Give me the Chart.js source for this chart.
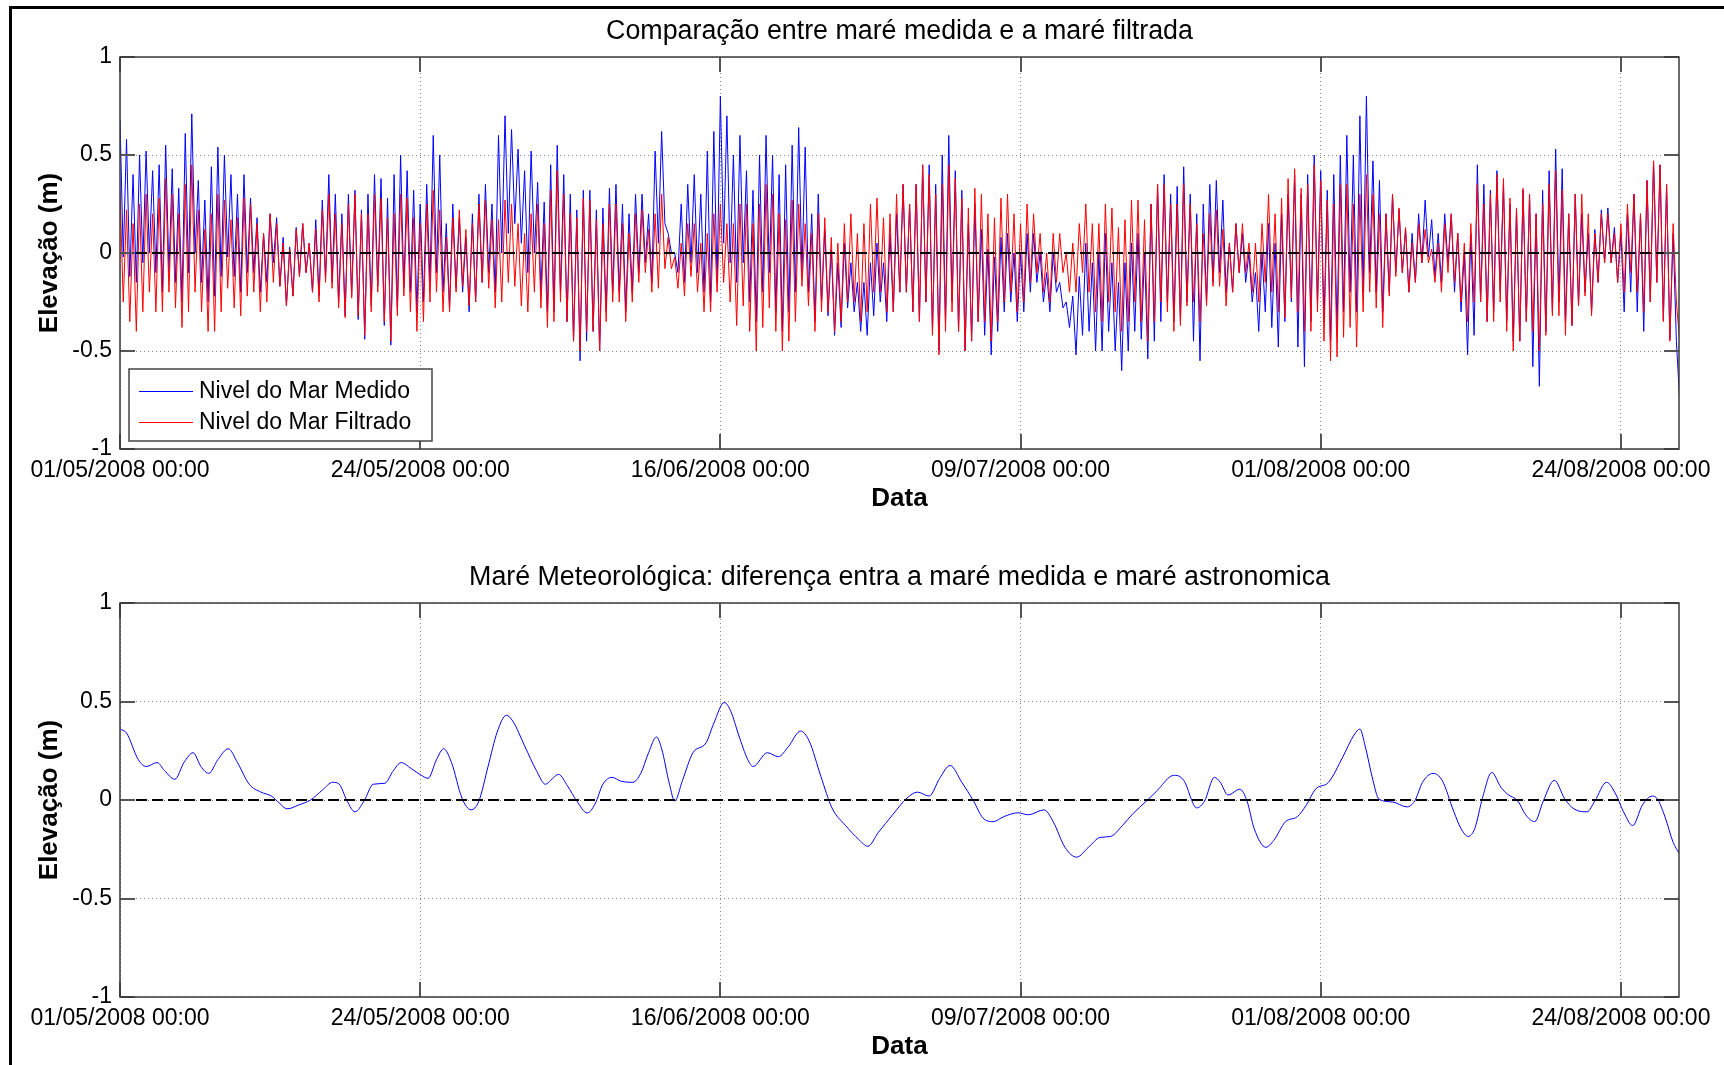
<!DOCTYPE html>
<html lang="pt">
<head>
<meta charset="utf-8">
<title>Maré medida, filtrada e meteorológica</title>
<script src="https://cdn.jsdelivr.net/npm/chart.js@4.4.1/dist/chart.umd.min.js"></script>
<style>
  html, body { margin: 0; padding: 0; background: #fff; }
  body { width: 1724px; height: 1065px; position: relative; overflow: hidden; }
  .painel { position: absolute; left: 0; width: 1724px; }
  .painel canvas { display: block; }
  #painel-topo { top: 0; height: 511px; }
  #painel-base { top: 546px; height: 513px; }
  .moldura { position: absolute; left: 9px; top: 6px; right: -10px; bottom: -10px;
             border-left: 3px solid #000; border-top: 3px solid #000; pointer-events: none; }
</style>
</head>
<body>
<div class="painel" id="painel-topo"><canvas id="grafico-mare" width="1724" height="511"></canvas></div>
<div class="painel" id="painel-base"><canvas id="grafico-meteo" width="1724" height="513"></canvas></div>
<div class="moldura"></div>
<script>
(function () {
  'use strict';

  var FONTE = '"Liberation Sans", Arial, Helvetica, sans-serif';
  var PASSO = 0.25;      // intervalo entre amostras (dias) = 6 h
  var FIM = 119.45;      // fim da série em dias desde 01/05/2008 00:00

  // eixo x: dias desde 01/05/2008 00:00
  var tickDias = [0, 23, 46, 69, 92, 115];
  var tickRotulos = ['01/05/2008 00:00', '24/05/2008 00:00', '16/06/2008 00:00',
                     '09/07/2008 00:00', '01/08/2008 00:00', '24/08/2008 00:00'];
  var yTicks = [-1, -0.5, 0, 0.5, 1];
  var yRotulos = ['-1', '-0.5', '0', '0.5', '1'];

  var zeroDias = [0, FIM];
  var zeroValores = [0, 0];

  // Nivel do Mar Medido (m), 4 amostras por dia
  var nivelMedido = [
    .68,-.02,.58,-.12,  .4,-.15,.5,-.05,  .52,0,.42,-.1,  .45,-.2,.55,-.1,
    .43,-.15,.33,-.25,  .61,-.1,.71,0,  .37,-.15,.27,-.25,  .44,-.22,.54,-.12,
    .5,-.02,.4,-.12,  .3,-.2,.4,-.1,  .28,-.1,.18,-.2,  .1,-.15,.2,-.05,
    .18,-.17,.08,-.27,  .03,-.22,.13,-.12,  .15,-.1,.05,-.2,  .17,-.22,.27,-.12,
    .4,-.15,.3,-.25,  .2,-.32,.3,-.22,  .32,-.34,.22,-.44,  .3,-.27,.4,-.17,
    .38,-.37,.28,-.47,  .4,-.28,.5,-.18,  .42,-.2,.32,-.3,
    // 24/05
    .25,-.25,.35,-.15,  .6,-.1,.5,-.2,  .15,-.28,.25,-.18,  .18,-.2,.08,-.3,
    .2,-.25,.3,-.15,  .35,-.1,.25,-.2,  .6,0,.7,.1,  .63,.15,.53,.05,
    .42,-.1,.52,0,  .36,-.2,.26,-.3,  .45,-.3,.55,-.2,  .4,-.35,.3,-.45,
    .22,-.55,.32,-.45,  .32,-.4,.22,-.5,  .23,-.3,.33,-.2,  .35,-.2,.25,-.3,
    .2,-.2,.3,-.1,  .3,-.05,.2,-.15,  .52,.05,.62,.15,  .1,0,0,-.1,
    .25,-.15,.35,-.05,  .4,-.1,.3,-.2,  .52,-.25,.62,-.15,
    // 16/06
    .8,.05,.7,-.05,  .5,-.15,.6,-.05,  .42,-.25,.32,-.35,  .5,-.2,.6,-.1,
    .5,-.3,.4,-.4,  .45,-.3,.55,-.2,  .64,-.1,.54,-.2,  .2,-.35,.3,-.25,
    .12,-.32,.02,-.42,  -.05,-.38,.05,-.28,  -.05,-.3,-.15,-.4,  -.15,-.42,-.05,-.32,
    .05,-.25,-.05,-.35,  .1,-.3,.2,-.2,  .35,-.2,.25,-.3,  .35,-.35,.45,-.25,
    .45,-.4,.35,-.5,  .5,-.35,.6,-.25,  .42,-.4,.32,-.5,  .15,-.45,.25,-.35,
    .12,-.42,.02,-.52,  -.02,-.4,.08,-.3,  .1,-.25,0,-.35,
    // 09/07
    0,-.3,.1,-.2,  .1,-.15,0,-.25,  -.1,-.3,0,-.2,  -.15,-.28,-.25,-.38,
    -.22,-.52,-.12,-.42,  .05,-.4,-.05,-.5,  0,-.5,.1,-.4,  -.05,-.5,-.15,-.6,
    -.05,-.5,.05,-.4,  .1,-.44,0,-.54,  .25,-.45,.35,-.35,  .4,-.25,.3,-.35,
    .34,-.35,.44,-.25,  .3,-.45,.2,-.55,  .25,-.25,.35,-.15,  .37,-.1,.27,-.2,
    .05,-.2,.15,-.1,  .1,-.15,0,-.25,  -.1,-.4,0,-.3,  .15,-.38,.05,-.48,
    .2,-.35,.3,-.25,  .4,-.48,.3,-.58,  .4,-.35,.5,-.25,
    // 01/08
    .42,-.35,.32,-.45,  .4,-.4,.5,-.3,  .6,-.2,.5,-.3,  .7,-.2,.8,-.1,
    .47,-.2,.37,-.3,  .2,-.2,.3,-.1,  .22,-.1,.12,-.2,  .1,-.15,.2,-.05,
    .27,-.02,.17,-.12,  .1,-.15,.2,-.05,  .2,-.2,.1,-.3,  0,-.52,.1,-.42,
    .45,-.25,.35,-.35,  .32,-.3,.42,-.2,  .35,-.35,.25,-.45,  .22,-.45,.32,-.35,
    .3,-.58,.2,-.68,  .32,-.4,.42,-.3,  .53,-.25,.43,-.35,  .2,-.37,.3,-.27,
    .2,-.2,.1,-.3,  .12,-.15,.22,-.05,  .23,-.05,.13,-.15,
    // 24/08
    .1,-.3,.2,-.2,  .3,-.3,.2,-.4,  .37,-.25,.47,-.15,  .45,-.34,.35,-.44,
    .1,-.45,-.75,-.6
  ];

  // Nivel do Mar Filtrado (m), 4 amostras por dia
  var nivelFiltrado = [
    .32,-.25,.22,-.35,  .15,-.4,.25,-.3,  .3,-.2,.2,-.3,  .28,-.3,.38,-.2,
    .3,-.28,.2,-.38,  .35,-.3,.45,-.2,  .22,-.3,.12,-.4,  .2,-.4,.3,-.3,
    .27,-.18,.17,-.28,  .18,-.32,.28,-.22,  .25,-.2,.15,-.3,  .1,-.25,.2,-.15,
    .15,-.17,.05,-.27,  .02,-.22,.12,-.12,  .15,-.1,.05,-.2,  .12,-.25,.22,-.15,
    .3,-.18,.2,-.28,  .15,-.33,.25,-.23,  .3,-.32,.2,-.42,  .2,-.3,.3,-.2,
    .28,-.35,.18,-.45,  .2,-.32,.3,-.22,  .28,-.3,.18,-.4,
    // 24/05
    .15,-.35,.25,-.25,  .32,-.2,.22,-.3,  .08,-.3,.18,-.2,  .22,-.17,.12,-.27,
    .15,-.25,.25,-.15,  .27,-.18,.17,-.28,  .17,-.25,.27,-.15,  .25,-.17,.15,-.27,
    .1,-.3,.2,-.2,  .25,-.28,.15,-.38,  .32,-.35,.42,-.25,  .3,-.35,.2,-.45,
    .18,-.5,.28,-.4,  .27,-.4,.17,-.5,  .15,-.35,.25,-.25,  .25,-.25,.15,-.35,
    .1,-.25,.2,-.15,  .22,-.1,.12,-.2,  .2,-.18,.3,-.08,  .08,-.08,-.02,-.18,
    .05,-.22,.15,-.12,  .15,-.2,.05,-.3,  .1,-.3,.2,-.2,
    // 16/06
    .25,-.15,.15,-.25,  .15,-.37,.25,-.27,  .25,-.4,.15,-.5,  .25,-.38,.35,-.28,
    .3,-.4,.2,-.5,  .17,-.45,.27,-.35,  .25,-.17,.15,-.27,  .1,-.4,.2,-.3,
    .18,-.3,.08,-.4,  .05,-.35,.15,-.25,  .2,-.25,.1,-.35,  .15,-.3,.25,-.2,
    .28,-.2,.18,-.3,  .2,-.3,.3,-.2,  .35,-.2,.25,-.3,  .35,-.35,.45,-.25,
    .4,-.42,.3,-.52,  .35,-.4,.45,-.3,  .38,-.4,.28,-.5,  .23,-.45,.33,-.35,
    .3,-.35,.2,-.45,  .18,-.35,.28,-.25,  .3,-.2,.2,-.3,
    // 09/07
    .15,-.25,.25,-.15,  .2,-.1,.1,-.2,  0,-.25,.1,-.15,  .1,-.1,0,-.2,
    .05,-.2,.15,-.1,  .25,-.2,.15,-.3,  .15,-.35,.25,-.25,  .23,-.3,.13,-.4,
    .17,-.35,.27,-.25,  .27,-.35,.17,-.45,  .25,-.35,.35,-.25,  .35,-.3,.25,-.4,
    .25,-.37,.35,-.27,  .25,-.25,.15,-.35,  .1,-.27,.2,-.17,  .22,-.17,.12,-.27,
    .05,-.2,.15,-.1,  .15,-.1,.05,-.2,  .05,-.25,.15,-.15,  .3,-.2,.2,-.3,
    .28,-.33,.38,-.23,  .43,-.3,.33,-.4,  .35,-.4,.45,-.3,
    // 01/08
    .37,-.45,.27,-.55,  .25,-.53,.35,-.43,  .35,-.38,.25,-.48,  .3,-.3,.4,-.2,
    .3,-.28,.2,-.38,  .2,-.22,.3,-.12,  .23,-.1,.13,-.2,  .05,-.15,.15,-.05,
    .12,-.05,.02,-.15,  .05,-.2,.15,-.1,  .2,-.15,.1,-.25,  .05,-.35,.15,-.25,
    .35,-.25,.25,-.35,  .3,-.35,.4,-.25,  .38,-.4,.28,-.5,  .23,-.45,.33,-.35,
    .3,-.4,.2,-.5,  .25,-.42,.35,-.32,  .42,-.32,.32,-.42,  .2,-.37,.3,-.27,
    .3,-.22,.2,-.32,  .1,-.15,.2,-.05,  .2,-.05,.1,-.15,
    // 24/08
    .15,-.2,.25,-.1,  .3,-.2,.2,-.3,  .37,-.25,.47,-.15,  .45,-.35,.35,-.45,
    .15,-.25,-.45,-.3
  ];

  // Maré meteorológica: pontos (dia, m)
  var meteoDias = [
    0, 0.5, 1.4, 2.0, 2.85, 3.4, 4.2, 4.9, 5.6, 6.2, 6.8, 7.5, 8.3, 9.0, 9.9, 10.8,
    11.6, 12.2, 12.8, 13.7, 14.6, 15.5, 16.3, 16.8, 17.4, 18.0, 18.7, 19.4, 20.3, 20.9,
    21.55, 22.3, 23.1, 23.6, 24.25, 24.8, 25.4, 26.2, 26.9, 27.5, 28.2, 28.9, 29.6, 30.1,
    31.0, 31.9, 32.6, 33.0, 33.6, 34.3, 35.0, 35.8, 36.4, 37.0, 37.7, 38.4, 39.3, 39.9,
    40.5, 41.1, 41.5, 42.1, 42.5, 43.1, 43.9, 44.9, 45.5, 46.3, 46.8, 47.4, 48.1, 48.5,
    49.6, 50.45, 51.2, 52.15, 52.8, 53.7, 54.55, 55.6, 56.6, 57.3, 58.1, 59.2, 60.3, 61.1,
    62.0, 62.8, 63.6, 64.5, 65.4, 66.1, 66.9, 67.7, 68.8, 69.6, 70.8, 71.5, 72.4, 73.3,
    74.2, 75.1, 75.9, 76.8, 77.6, 78.65, 79.5, 80.5, 80.9, 81.5, 82.5, 83.1, 83.85, 84.3,
    84.9, 85.8, 86.35, 86.9, 87.8, 88.4, 89.3, 90.2, 90.9, 91.6, 92.6, 93.7, 94.55, 95.0,
    95.4, 96.0, 96.45, 97.5, 98.6, 99.2, 99.8, 100.6, 101.3, 102.2, 102.75, 103.3, 103.8,
    104.4, 105.1, 105.8, 106.3, 107.1, 107.7, 108.4, 109.05, 109.9, 110.7, 111.4, 112.4,
    113.0, 113.9, 114.6, 115.2, 115.9, 116.65, 117.4, 117.8, 118.4, 119.0, 119.45
  ];
  var meteoValores = [
    .36, .34, .205, .17, .19, .15, .105, .19, .24, .17, .135, .205, .26, .19, .08, .04,
    .02, -.015, -.045, -.025, 0, .05, .09, .08, -.005, -.06, -.005, .08, .085, .145,
    .19, .16, .125, .11, .205, .26, .19, .01, -.05, -.005, .17, .345, .43, .40,
    .275, .15, .08, .1, .13, .07, -.005, -.066, -.02, .08, .115, .095, .09, .135,
    .24, .32, .26, .08, -.005, .1, .24, .29, .39, .495, .45, .33, .205, .17,
    .24, .22, .27, .35, .30, .12, -.04, -.13, -.2, -.235, -.165, -.075, .01, .04,
    .02, .11, .175, .09, -.005, -.09, -.11, -.085, -.065, -.075, -.05, -.11, -.24, -.29,
    -.24, -.19, -.185, -.13, -.07, -.005, .05, .12, .125, .1, -.04, -.005, .115, .09,
    .025, .055, -.005, -.145, -.24, -.205, -.11, -.085, -.025, .055, .09, .22, .33, .36,
    .275, .1, .005, -.01, -.035, -.005, .09, .135, .1, -.06, -.145, -.185, -.145,
    .012, .14, .065, .03, -.005, -.075, -.11, -.005, .1, .005, -.045, -.06,
    -.005, .09, .03, -.06, -.13, -.025, .02, .005, -.09, -.215, -.27
  ];

  function serie(valores) {
    return valores.map(function (v, i) { return { x: i * PASSO, y: v }; });
  }
  function pares(xs, ys) {
    return xs.map(function (x, i) { return { x: x, y: ys[i] }; });
  }

  // caixa do eixo e marcas internas, como no MATLAB
  var eixoMatlab = {
    id: 'eixoMatlab',
    afterDatasetsDraw: function (chart) {
      var a = chart.chartArea, ctx = chart.ctx;
      var sx = chart.scales.x, sy = chart.scales.y;
      var tam = 15;
      ctx.save();
      ctx.strokeStyle = '#555';
      ctx.lineWidth = 2;
      ctx.beginPath();
      tickDias.forEach(function (d) {
        var px = Math.round(sx.getPixelForValue(d));
        ctx.moveTo(px, a.bottom); ctx.lineTo(px, a.bottom - tam);
        ctx.moveTo(px, a.top); ctx.lineTo(px, a.top + tam);
      });
      yTicks.forEach(function (v) {
        var py = Math.round(sy.getPixelForValue(v));
        ctx.moveTo(a.left, py); ctx.lineTo(a.left + tam, py);
        ctx.moveTo(a.right, py); ctx.lineTo(a.right - tam, py);
      });
      ctx.stroke();
      ctx.lineWidth = 1.5;
      ctx.strokeStyle = '#3a3a3a';
      ctx.strokeRect(a.left, a.top, a.right - a.left, a.bottom - a.top);
      ctx.restore();
    }
  };

  var legendaItens = ['Nivel do Mar Medido', 'Nivel do Mar Filtrado'];
  var legendaCaixa = {
    id: 'legendaCaixa',
    afterDraw: function (chart) {
      var ctx = chart.ctx, a = chart.chartArea;
      var x0 = a.left + 9, y0 = a.bottom - 80, w = 303, h = 72;
      ctx.save();
      ctx.fillStyle = '#fff';
      ctx.fillRect(x0, y0, w, h);
      ctx.strokeStyle = '#444';
      ctx.lineWidth = 1.5;
      ctx.strokeRect(x0, y0, w, h);
      ctx.font = '23px ' + FONTE;
      ctx.textBaseline = 'middle';
      legendaItens.forEach(function (rotulo, i) {
        var ds = chart.data.datasets.filter(function (d) { return d.label === rotulo; })[0];
        var y = y0 + 22 + i * 31;
        ctx.strokeStyle = ds.borderColor;
        ctx.lineWidth = 1;
        ctx.beginPath();
        ctx.moveTo(x0 + 10, y + 0.5); ctx.lineTo(x0 + 64, y + 0.5);
        ctx.stroke();
        ctx.fillStyle = '#000';
        ctx.fillText(rotulo, x0 + 70, y + 1);
      });
      ctx.restore();
    }
  };

  function opcoes(titulo) {
    var grade = { color: '#8a8a8a', lineWidth: 1, drawTicks: false };
    var borda = { display: false, dash: [1, 3] };
    return {
      responsive: false,
      animation: false,
      devicePixelRatio: 1,
      layout: { padding: { left: 0, right: 45, top: 0, bottom: 0 } },
      plugins: {
        legend: { display: false },
        tooltip: { enabled: false },
        title: {
          display: true, text: titulo, color: '#000', fullSize: false,
          font: { family: FONTE, size: 26.8, weight: 'normal', lineHeight: 1 },
          padding: { top: 18.6, bottom: 11.6 }
        }
      },
      scales: {
        x: {
          type: 'linear', min: 0, max: FIM,
          afterBuildTicks: function (s) { s.ticks = tickDias.map(function (d) { return { value: d }; }); },
          afterFit: function (s) { s.height = 62; },
          grid: grade,
          border: borda,
          ticks: {
            color: '#000', padding: 10.5, maxRotation: 0, autoSkip: false,
            font: { family: FONTE, size: 23, lineHeight: 1 },
            callback: function (v) { var i = tickDias.indexOf(v); return i < 0 ? '' : tickRotulos[i]; }
          },
          title: {
            display: true, text: 'Data', color: '#000',
            font: { family: FONTE, size: 26, weight: 'bold', lineHeight: 1 },
            padding: { top: 0, bottom: -1 }
          }
        },
        y: {
          min: -1, max: 1,
          afterBuildTicks: function (s) { s.ticks = yTicks.map(function (v) { return { value: v }; }); },
          afterFit: function (s) { s.width = 120; },
          grid: grade,
          border: borda,
          ticks: {
            color: '#000', padding: 8,
            font: { family: FONTE, size: 23, lineHeight: 1 },
            callback: function (v) { var i = yTicks.indexOf(v); return i < 0 ? '' : yRotulos[i]; }
          },
          title: {
            display: true, text: 'Elevação (m)', color: '#000',
            font: { family: FONTE, size: 26, weight: 'bold', lineHeight: 1 },
            padding: { top: 37, bottom: 0 }
          }
        }
      }
    };
  }

  function linhaZero() {
    return {
      label: 'zero', data: pares(zeroDias, zeroValores), order: 0,
      borderColor: '#000', borderWidth: 2, borderDash: [11, 5], pointRadius: 0
    };
  }

  new Chart(document.getElementById('grafico-mare').getContext('2d'), {
    type: 'line',
    data: {
      datasets: [
        linhaZero(),
        { label: 'Nivel do Mar Filtrado', data: serie(nivelFiltrado), order: 1,
          borderColor: '#ff0000', borderWidth: 1, pointRadius: 0, tension: 0 },
        { label: 'Nivel do Mar Medido', data: serie(nivelMedido), order: 2,
          borderColor: '#0000ff', borderWidth: 1, pointRadius: 0, tension: 0 }
      ]
    },
    options: opcoes('Comparação entre maré medida e a maré filtrada'),
    plugins: [eixoMatlab, legendaCaixa]
  });

  new Chart(document.getElementById('grafico-meteo').getContext('2d'), {
    type: 'line',
    data: {
      datasets: [
        linhaZero(),
        { label: 'Maré meteorológica', data: pares(meteoDias, meteoValores), order: 1,
          borderColor: '#0000ff', borderWidth: 1, pointRadius: 0,
          cubicInterpolationMode: 'monotone' }
      ]
    },
    options: opcoes('Maré Meteorológica: diferença entra a maré medida e maré astronomica'),
    plugins: [eixoMatlab]
  });
})();
</script>
</body>
</html>
